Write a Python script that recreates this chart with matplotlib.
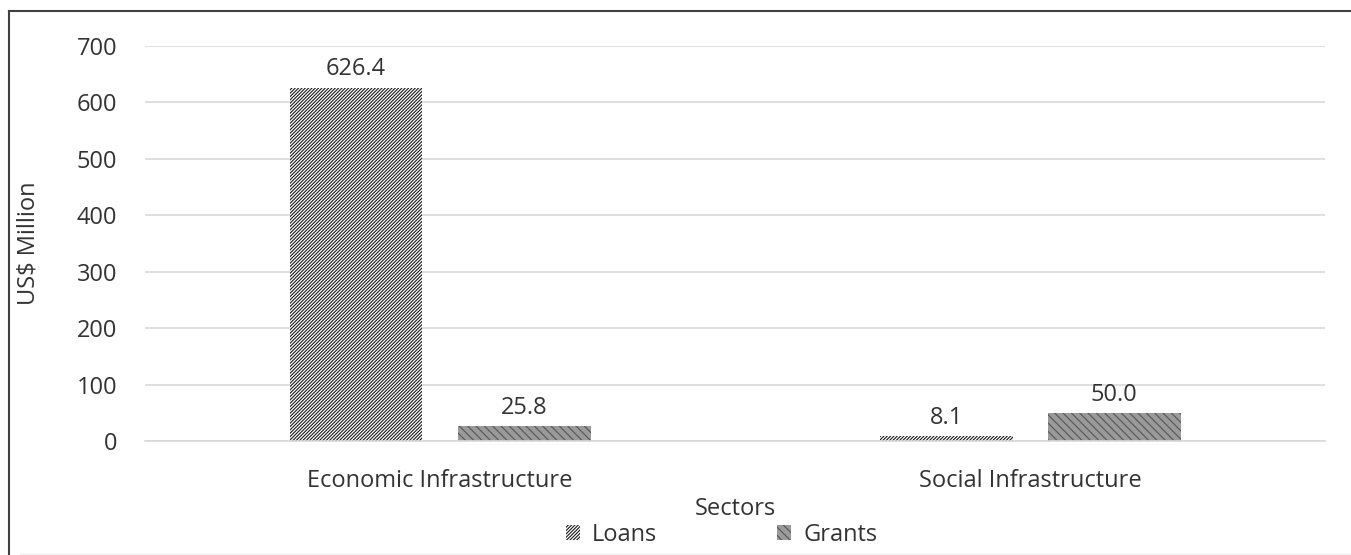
import numpy as np
import matplotlib.pyplot as plt
from matplotlib.lines import Line2D

plt.rcParams['font.family'] = ['Open Sans', 'DejaVu Sans']
plt.rcParams['hatch.linewidth'] = 0.8

# 部門別の融資・無償資金 (US$ Million)
sectors = ['Economic Infrastructure', 'Social Infrastructure']
loans = [626.4, 8.1]
grants = [25.8, 50.0]
yticks = [0, 100, 200, 300, 400, 500, 600, 700]

txt = '#333333'
fs = 17
fig = plt.figure(figsize=(13.51, 5.55), dpi=100)
ax = fig.add_axes([0.1073, 0.2054, 0.8737, 0.7117])

x = np.arange(len(sectors))
w = 0.225
off = 0.1425
b1 = ax.bar(x - off, loans, w, color='white', edgecolor='#1a1a1a', hatch='//////////',
            linewidth=0, label='Loans')
b2 = ax.bar(x + off, grants, w, color='#9a9a9a', edgecolor='#555555', hatch='\\\\\\\\',
            linewidth=0, label='Grants')

for bars, vals in [(b1, loans), (b2, grants)]:
    for r, v in zip(bars, vals):
        ax.text(r.get_x() + r.get_width() / 2, v + 11, f'{v:.1f}', ha='center',
                va='bottom', fontsize=fs, color=txt)

ax.set_xlim(-0.5, 1.5)
ax.set_ylim(0, 700)
ax.set_yticks(yticks)
ax.set_xticks(x)
ax.set_xticklabels(sectors)
ax.tick_params(length=0, labelsize=fs, labelcolor=txt)
ax.tick_params(axis='y', pad=20)
ax.tick_params(axis='x', pad=20)
ax.grid(axis='y', color='#d9d9d9', linewidth=1.2)
ax.set_axisbelow(True)
for s in ['top', 'right', 'left']:
    ax.spines[s].set_visible(False)
ax.spines['bottom'].set_color('#d9d9d9')
ax.spines['bottom'].set_linewidth(1.2)

ax.set_ylabel('US$ Million', fontsize=fs, color=txt, labelpad=26)
ax.set_xlabel('Sectors', fontsize=fs, color=txt, labelpad=3)

fig.legend(handles=[b1, b2], labels=['Loans', 'Grants'], loc='center',
           bbox_to_anchor=(0.534, 0.036), ncol=2, frameon=False, fontsize=fs,
           handlelength=0.6, handleheight=0.6, handletextpad=0.5,
           columnspacing=5.1, labelcolor=txt)

# 枠線
fig.add_artist(Line2D([9 / 1351, 1], [1 - 11 / 555, 1 - 11 / 555], color='#404040', lw=1.5))
fig.add_artist(Line2D([9 / 1351, 9 / 1351], [0, 1 - 11 / 555], color='#404040', lw=1.5))
fig.add_artist(Line2D([20 / 1351, 1], [1 / 555, 1 / 555], color='#eeeeee', lw=1))

fig.savefig('out.png', dpi=100)
